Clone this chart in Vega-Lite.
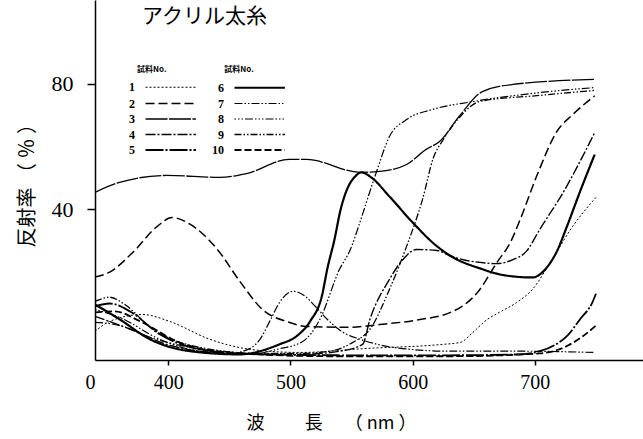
{
  "$schema": "https://vega.github.io/schema/vega-lite/v6.json",
  "width": 548,
  "height": 360,
  "autosize": {"type": "none"},
  "padding": {"left": 95, "top": 0, "right": 0, "bottom": 79},
  "background": "white",
  "config": {"view": {"stroke": null}},
  "title": {"text": "アクリル太糸", "anchor": "start", "frame": "group", "offset": -38, "dx": 47, "baseline": "middle", "font": "Noto Sans CJK JP", "fontSize": 21, "fontWeight": "normal", "color": "black"},
  "data": {"values": [
    {"s":"1","nm":340,"r":1.1},{"s":"1","nm":352,"r":4.3},{"s":"1","nm":379,"r":6.5},{"s":"1","nm":401,"r":4.3},{"s":"1","nm":434,"r":-1.4},{"s":"1","nm":467,"r":-4.6},{"s":"1","nm":508,"r":-5.6},{"s":"1","nm":563,"r":-4.3},{"s":"1","nm":622,"r":-3.1},{"s":"1","nm":639,"r":-2.4},{"s":"1","nm":649,"r":0.7},{"s":"1","nm":661,"r":4.9},{"s":"1","nm":671,"r":7.2},{"s":"1","nm":685,"r":10.3},{"s":"1","nm":698,"r":14.5},{"s":"1","nm":714,"r":24.0},{"s":"1","nm":731,"r":34.6},{"s":"1","nm":750,"r":43.8},
    {"s":"2","nm":340,"r":18.4},{"s":"2","nm":352,"r":20.0},{"s":"2","nm":371,"r":26.3},{"s":"2","nm":391,"r":34.6},{"s":"2","nm":403,"r":37.4},{"s":"2","nm":418,"r":35.2},{"s":"2","nm":440,"r":27.3},{"s":"2","nm":459,"r":16.8},{"s":"2","nm":477,"r":8.1},{"s":"2","nm":499,"r":4.0},{"s":"2","nm":513,"r":2.7},{"s":"2","nm":546,"r":2.4},{"s":"2","nm":573,"r":3.3},{"s":"2","nm":606,"r":4.9},{"s":"2","nm":630,"r":7.0},{"s":"2","nm":642,"r":9.5},{"s":"2","nm":653,"r":13.5},{"s":"2","nm":669,"r":23.1},{"s":"2","nm":680,"r":29.5},{"s":"2","nm":688,"r":36.8},{"s":"2","nm":702,"r":51.1},{"s":"2","nm":718,"r":64.8},{"s":"2","nm":731,"r":70.2},{"s":"2","nm":749,"r":76.2},
    {"s":"3","nm":340,"r":45.4},{"s":"3","nm":360,"r":48.6},{"s":"3","nm":399,"r":50.8},{"s":"3","nm":442,"r":50.2},{"s":"3","nm":464,"r":51.4},{"s":"3","nm":499,"r":55.9},{"s":"3","nm":513,"r":55.9},{"s":"3","nm":557,"r":51.8},{"s":"3","nm":573,"r":52.1},{"s":"3","nm":595,"r":54.3},{"s":"3","nm":611,"r":59.1},{"s":"3","nm":622,"r":61.6},{"s":"3","nm":638,"r":69.6},{"s":"3","nm":657,"r":77.5},{"s":"3","nm":682,"r":79.8},{"s":"3","nm":749,"r":81.4},
    {"s":"7","nm":340,"r":4.0},{"s":"7","nm":360,"r":3.0},{"s":"7","nm":385,"r":-0.8},{"s":"7","nm":418,"r":-4.0},{"s":"7","nm":450,"r":-5.9},{"s":"7","nm":467,"r":-4.3},{"s":"7","nm":475,"r":-1.4},{"s":"7","nm":483,"r":4.3},{"s":"7","nm":491,"r":10.3},{"s":"7","nm":502,"r":13.9},{"s":"7","nm":512,"r":12.3},{"s":"7","nm":520,"r":9.2},{"s":"7","nm":530,"r":5.0},{"s":"7","nm":543,"r":0.8},{"s":"7","nm":557,"r":-1.4},{"s":"7","nm":571,"r":-3.0},{"s":"7","nm":598,"r":-4.6},{"s":"7","nm":630,"r":-5.2},{"s":"7","nm":688,"r":-5.2},{"s":"7","nm":749,"r":-5.6},
    {"s":"4","nm":340,"r":5.9},{"s":"4","nm":369,"r":1.8},{"s":"4","nm":401,"r":-3.3},{"s":"4","nm":450,"r":-5.9},{"s":"4","nm":508,"r":-6.2},{"s":"4","nm":540,"r":-5.2},{"s":"4","nm":559,"r":-3.0},{"s":"4","nm":565,"r":4.9},{"s":"4","nm":581,"r":17.7},{"s":"4","nm":592,"r":24.0},{"s":"4","nm":603,"r":27.2},{"s":"4","nm":620,"r":26.9},{"s":"4","nm":630,"r":25.3},{"s":"4","nm":644,"r":23.7},{"s":"4","nm":655,"r":23.1},{"s":"4","nm":669,"r":22.7},{"s":"4","nm":682,"r":24.0},{"s":"4","nm":693,"r":26.6},{"s":"4","nm":704,"r":33.6},{"s":"4","nm":726,"r":47.3},{"s":"4","nm":739,"r":56.8},{"s":"4","nm":749,"r":64.5},
    {"s":"6","nm":340,"r":9.7},{"s":"6","nm":360,"r":5.0},{"s":"6","nm":385,"r":-1.4},{"s":"6","nm":418,"r":-5.2},{"s":"6","nm":458,"r":-6.2},{"s":"6","nm":491,"r":-3.0},{"s":"6","nm":505,"r":-0.4},{"s":"6","nm":516,"r":4.3},{"s":"6","nm":526,"r":12.9},{"s":"6","nm":530,"r":20.8},{"s":"6","nm":536,"r":30.4},{"s":"6","nm":541,"r":39.9},{"s":"6","nm":547,"r":47.0},{"s":"6","nm":553,"r":50.5},{"s":"6","nm":558,"r":51.8},{"s":"6","nm":566,"r":50.2},{"s":"6","nm":581,"r":44.1},{"s":"6","nm":600,"r":35.8},{"s":"6","nm":620,"r":28.2},{"s":"6","nm":633,"r":24.7},{"s":"6","nm":655,"r":21.2},{"s":"6","nm":675,"r":19.0},{"s":"6","nm":698,"r":18.3},{"s":"6","nm":710,"r":21.6},{"s":"6","nm":718,"r":26.6},{"s":"6","nm":726,"r":34.3},{"s":"6","nm":737,"r":45.7},{"s":"6","nm":749,"r":57.5},
    {"s":"8","nm":340,"r":8.1},{"s":"8","nm":360,"r":5.6},{"s":"8","nm":393,"r":-1.4},{"s":"8","nm":426,"r":-5.2},{"s":"8","nm":467,"r":-6.2},{"s":"8","nm":489,"r":-4.6},{"s":"8","nm":510,"r":-2.1},{"s":"8","nm":524,"r":4.9},{"s":"8","nm":540,"r":20.8},{"s":"8","nm":549,"r":27.2},{"s":"8","nm":557,"r":36.1},{"s":"8","nm":565,"r":45.7},{"s":"8","nm":571,"r":52.7},{"s":"8","nm":581,"r":63.2},{"s":"8","nm":595,"r":68.6},{"s":"8","nm":616,"r":71.8},{"s":"8","nm":649,"r":74.3},{"s":"8","nm":704,"r":77.2},{"s":"8","nm":749,"r":78.8},
    {"s":"9","nm":340,"r":10.7},{"s":"9","nm":352,"r":12.0},{"s":"9","nm":365,"r":9.5},{"s":"9","nm":385,"r":2.5},{"s":"9","nm":426,"r":-4.0},{"s":"9","nm":475,"r":-5.9},{"s":"9","nm":508,"r":-5.9},{"s":"9","nm":532,"r":-5.2},{"s":"9","nm":551,"r":-2.4},{"s":"9","nm":565,"r":1.8},{"s":"9","nm":581,"r":14.5},{"s":"9","nm":595,"r":28.2},{"s":"9","nm":608,"r":43.1},{"s":"9","nm":617,"r":56.5},{"s":"9","nm":625,"r":62.2},{"s":"9","nm":639,"r":69.6},{"s":"9","nm":655,"r":74.4},{"s":"9","nm":704,"r":76.3},{"s":"9","nm":749,"r":77.9},
    {"s":"5","nm":340,"r":9.1},{"s":"5","nm":352,"r":10.0},{"s":"5","nm":369,"r":7.4},{"s":"5","nm":393,"r":0.2},{"s":"5","nm":426,"r":-4.6},{"s":"5","nm":475,"r":-6.2},{"s":"5","nm":548,"r":-6.5},{"s":"5","nm":630,"r":-6.5},{"s":"5","nm":688,"r":-6.2},{"s":"5","nm":704,"r":-5.2},{"s":"5","nm":716,"r":-3.3},{"s":"5","nm":726,"r":-0.5},{"s":"5","nm":737,"r":5.0},{"s":"5","nm":747,"r":10.3},{"s":"5","nm":750,"r":13.1},
    {"s":"10","nm":340,"r":7.2},{"s":"10","nm":356,"r":7.5},{"s":"10","nm":377,"r":4.3},{"s":"10","nm":409,"r":-2.4},{"s":"10","nm":450,"r":-5.6},{"s":"10","nm":532,"r":-6.8},{"s":"10","nm":630,"r":-6.8},{"s":"10","nm":704,"r":-5.9},{"s":"10","nm":726,"r":-3.6},{"s":"10","nm":739,"r":-0.5},{"s":"10","nm":750,"r":3.0}
  ]},
  "mark": {"type": "line", "interpolate": "monotone", "color": "black", "clip": true},
  "encoding": {
    "x": {"field": "nm", "type": "quantitative",
      "scale": {"domain": [340, 788.5], "nice": false, "zero": false},
      "axis": {"values": [340, 400, 500, 600, 700], "labelExpr": "datum.value < 350 ? '0' : datum.label",
        "labelAlign": {"expr": "datum.value < 350 ? 'right' : 'center'"},
        "tickOpacity": {"expr": "datum.value < 350 ? 0 : 1"},
        "grid": false, "domainColor": "black", "domainWidth": 1.5, "tickColor": "black", "tickWidth": 1.5, "tickSize": 5,
        "labelFont": "Liberation Serif", "labelFontSize": 20, "labelColor": "black", "labelPadding": 7, "labelBound": false,
        "title": "波　　  長　  （ nm ）", "titleFont": "Noto Sans CJK JP", "titleFontSize": 18, "titleFontWeight": "normal", "titleColor": "black", "titlePadding": 22, "titleX": 236}},
    "y": {"field": "r", "type": "quantitative",
      "scale": {"domain": [-8, 106.7], "nice": false, "zero": false},
      "axis": {"values": [40, 80], "grid": false, "domainColor": "black", "domainWidth": 1.5, "tickColor": "black", "tickWidth": 1.5, "tickSize": 8,
        "labelFont": "Liberation Serif", "labelFontSize": 22, "labelColor": "black", "labelPadding": 14,
        "title": "反射率 （ ％ ）", "titleFont": "Noto Sans CJK JP", "titleFontSize": 20, "titleFontWeight": "normal", "titleColor": "black", "titlePadding": 14, "titleY": 247, "titleAlign": "left"}},
    "strokeDash": {"field": "s", "type": "nominal",
      "scale": {"type": "ordinal", "domain": ["1","2","3","4","5","6","7","8","9","10"],
        "range": [[2,2],[9,4],[22,1.5],[10,2,2,2],[18,2,2,2],[1,0],[8,2,1.5,2,1.5,2],[1.5,2,1.5,2,1.5,2,8,2],[7,2,1.5,2,1.5,2],[7,3]]},
      "legend": {"orient": "none", "legendX": 42, "legendY": 66, "columns": 2, "columnPadding": 12, "rowPadding": 1.5,
        "symbolType": "M0,0H7.2", "symbolSize": 196, "symbolStrokeColor": "black",
        "labelAlign": "right", "labelOffset": -19, "labelFont": "Liberation Serif", "labelFontWeight": "bold", "labelFontSize": 12, "labelColor": "black",
        "title": "試料No.　　　　　　　 試料No.", "titleFont": "Noto Sans CJK JP", "titleFontSize": 8, "titleFontWeight": "bold", "titleColor": "black"}},
    "strokeWidth": {"field": "s", "type": "nominal",
      "scale": {"type": "ordinal", "domain": ["1","2","3","4","5","6","7","8","9","10"],
        "range": [1, 1.5, 1.3, 1.4, 1.8, 2.2, 1.2, 1.2, 1.3, 1.8]}}
  }
}
